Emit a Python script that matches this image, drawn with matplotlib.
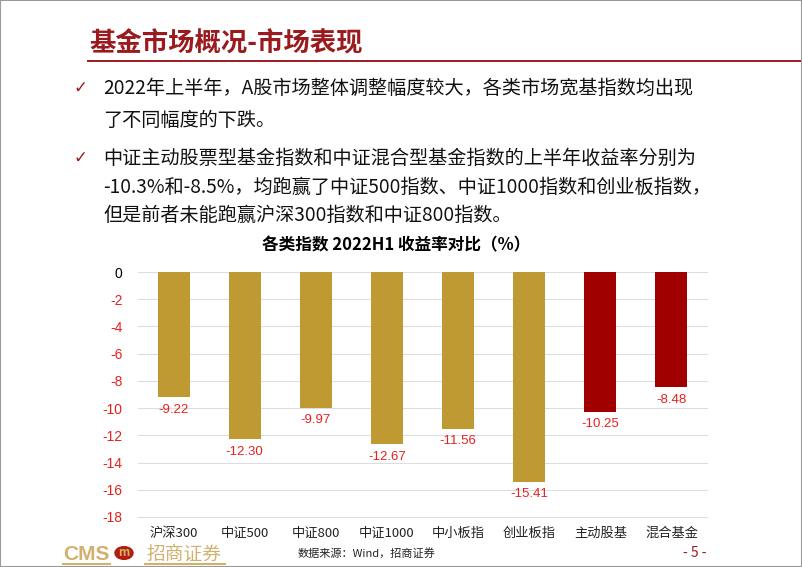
import matplotlib
matplotlib.use("Agg")
import matplotlib.pyplot as plt
from matplotlib.patches import Rectangle, Circle
from matplotlib.lines import Line2D

plt.rcParams['font.family'] = ['Noto Sans CJK SC', 'DejaVu Sans']

# data
categories = ["沪深300", "中证500", "中证800", "中证1000", "中小板指", "创业板指", "主动股基", "混合基金"]
returns = [-9.22, -12.30, -9.97, -12.67, -11.56, -15.41, -10.25, -8.48]
is_fund = [False, False, False, False, False, False, True, True]
yticks = list(range(0, -19, -2))

GOLD = "#BF9A33"
LOGO_GOLD = "#D2B16E"
DARK_RED = "#A00000"
LABEL_RED = "#E8201E"
TITLE_RED = "#9A1A1E"

W, H = 802, 567
fig = plt.figure(figsize=(W / 100, H / 100), dpi=100)


def px(x, y):
    """pixel coords (top-left origin) -> figure fraction"""
    return x / W, 1 - y / H


# frame + header
fig.add_artist(Rectangle((0, 0), 1, 1, transform=fig.transFigure, fill=False,
                         ec="#9a9a9a", lw=1.5))
fig.text(*px(89, 44), "基金市场概况-市场表现", color=TITLE_RED, fontsize=19,
         fontweight="bold", va="center", ha="left")
fig.add_artist(Line2D([88 / W, 800 / W], [1 - 61 / H] * 2, color=TITLE_RED, lw=1.4))

# bullet text
lines = [
    (88, "2022年上半年，A股市场整体调整幅度较大，各类市场宽基指数均出现", True),
    (120, "了不同幅度的下跌。", False),
    (158, "中证主动股票型基金指数和中证混合型基金指数的上半年收益率分别为", True),
    (187, "-10.3%和-8.5%，均跑赢了中证500指数、中证1000指数和创业板指数，", False),
    (215, "但是前者未能跑赢沪深300指数和中证800指数。", False),
]
for y, txt, tick in lines:
    if tick:
        fig.text(*px(80, y), "✓", color=TITLE_RED, fontsize=12, va="center", ha="center",
                 family=["DejaVu Sans"])
    fig.text(*px(103, y), txt, color="#111111", fontsize=13.8, va="center", ha="left")

# chart
ax = fig.add_axes([138 / W, 1 - 517 / H, (707 - 138) / W, (517 - 272) / H])
colors = [DARK_RED if f else GOLD for f in is_fund]
xs = range(len(categories))
ax.bar(xs, returns, width=0.45, color=colors, zorder=2)
for x, v in zip(xs, returns):
    ax.text(x, v - 0.45, f"{v:.2f}", ha="center", va="top", color=LABEL_RED, fontsize=9.5,
            family=["Liberation Sans", "DejaVu Sans"])
ax.set_ylim(-18, 0)
ax.set_xlim(-0.5, len(categories) - 0.5)
ax.set_yticks(yticks)
ax.set_yticklabels([str(t) for t in yticks], family=["Liberation Sans"], fontsize=10)
for lab, t in zip(ax.get_yticklabels(), yticks):
    lab.set_color("black" if t == 0 else LABEL_RED)
ax.tick_params(axis="y", length=0, pad=11)
ax.tick_params(axis="x", length=0, pad=7)
ax.set_xticks(list(xs))
ax.set_xticklabels(categories, fontsize=9.5, color="#222222")
ax.grid(axis="y", color="#dddddd", lw=0.8, zorder=0)
for ln in ax.get_ygridlines():
    ln.set_clip_on(False)
for s in ax.spines.values():
    s.set_visible(False)
fig.text(*px(396, 245), "各类指数 2022H1 收益率对比（%）", fontsize=12, fontweight="bold",
         va="center", ha="center")

# footer logo
fig.text(*px(63, 554), "CMS", color=LOGO_GOLD, fontsize=15, fontweight="bold",
         va="center", ha="left", family=["Liberation Sans"])
fig.add_artist(Circle(px(124, 553), 9 / W, transform=fig.transFigure, color="#B01E10"))
fig.text(*px(124, 553), "m", color=LOGO_GOLD, fontsize=8.5, fontweight="bold", va="center",
         ha="center")
fig.text(*px(146, 554), "招商证券", color=LOGO_GOLD, fontsize=13.5, va="center", ha="left")
for x0, x1 in [(63, 110), (145, 225)]:
    fig.add_artist(Line2D([x0 / W, x1 / W], [1 - 564 / H] * 2, color=LOGO_GOLD, lw=1.5))
fig.text(*px(298, 553), "数据来源：Wind，招商证券", color="#222222", fontsize=8,
         va="center", ha="left")
fig.text(*px(695, 553), "- 5 -", color=TITLE_RED, fontsize=10, va="center", ha="center")

fig.savefig("out.png", dpi=100)
